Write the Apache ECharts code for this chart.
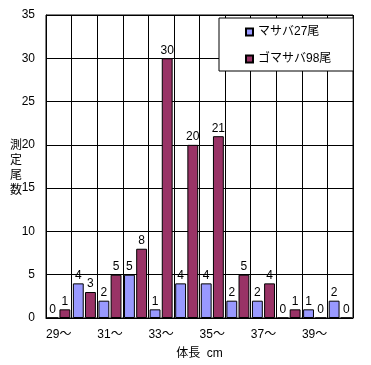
<!DOCTYPE html>
<html><head><meta charset="utf-8">
<script src="https://cdn.jsdelivr.net/npm/echarts@6/dist/echarts.min.js"></script>
<style>html,body{margin:0;padding:0;background:#fff}#c{width:371px;height:365px}</style>
</head><body><div id="c"></div>
<script>
const categories = ['29～','30～','31～','32～','33～','34～','35～','36～','37～','38～','39～','40～'];
const masaba = [0,4,2,5,1,4,4,2,2,0,1,2];
const gomasaba = [1,3,5,8,30,20,21,5,4,1,0,0];
const seriesNames = ['マサバ27尾','ゴマサバ98尾'];
const yTicks = {min:0, max:35, interval:5};
const FONT = '"Liberation Sans","Noto Sans CJK JP",sans-serif';

const chart = echarts.init(document.getElementById('c'), null, {renderer:'canvas'});
const lbl = {show:true, position:'top', distance:2, color:'#000', fontSize:12, fontFamily:FONT};
chart.setOption({
  animation:false,
  backgroundColor:'#fff',
  grid:{left:46, right:18, top:15, bottom:45, show:true, borderColor:'#000', borderWidth:1},
  legend:{
    orient:'vertical', left:219, top:18,
    backgroundColor:'#fff', borderColor:'#000', borderWidth:1,
    padding:[8,22,6,26], itemGap:15, itemWidth:7, itemHeight:7, icon:'rect',
    textStyle:{fontSize:12, color:'#000', fontFamily:FONT},
    data:seriesNames
  },
  xAxis:{
    type:'category', data:categories,
    name:'体長  cm', nameLocation:'middle', nameGap:30,
    nameTextStyle:{fontSize:12, color:'#000', fontFamily:FONT},
    axisLine:{lineStyle:{color:'#000'}}, axisTick:{show:false},
    axisLabel:{interval:1, color:'#000', fontSize:12, fontFamily:FONT, margin:11},
    splitLine:{show:true, interval:0, lineStyle:{color:'#000', width:1}}
  },
  yAxis:{
    type:'value', min:yTicks.min, max:yTicks.max, interval:yTicks.interval,
    axisLine:{show:true, lineStyle:{color:'#000'}}, axisTick:{show:false},
    axisLabel:{color:'#000', fontSize:12, fontFamily:FONT, margin:11},
    splitLine:{lineStyle:{color:'#000', width:1}}
  },
  graphic:[{type:'text', left:10, top:138, style:{text:'測\n定\n尾\n数', fontSize:12, lineHeight:15, fill:'#000', fontFamily:FONT}}],
  series:[
    {name:seriesNames[0], type:'bar', data:masaba, barGap:'12%', barCategoryGap:'10%',
     itemStyle:{color:'#9999FF', borderColor:'#000', borderWidth:1}, label:lbl},
    {name:seriesNames[1], type:'bar', data:gomasaba,
     itemStyle:{color:'#993366', borderColor:'#000', borderWidth:1}, label:lbl}
  ]
});
</script></body></html>
